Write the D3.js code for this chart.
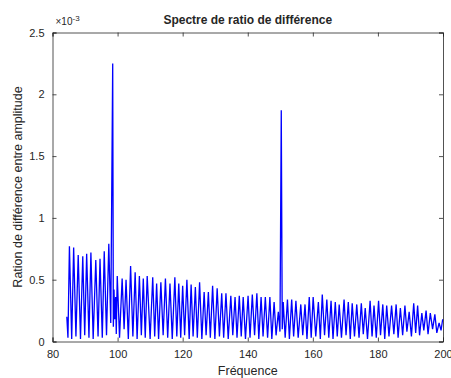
<!DOCTYPE html>
<meta charset="utf-8">
<style>
body { margin: 0; background: #fff; }
text { font-family: "Liberation Sans", Arial, Helvetica, sans-serif; fill: #262626; }
.title { font-size: 12px; font-weight: bold; }
.lbl { font-size: 12.5px; }
</style>
<svg width="451" height="378"></svg>
<script src="https://cdn.jsdelivr.net/npm/d3@7/dist/d3.min.js"></script>
<script>

// peaks of the ratio (frequency in Hz, amplitude in 1e-3)
var peakFreq = [85.2, 86.5, 87.9, 89.3, 90.5, 91.8, 93.3, 94.6, 95.9, 97.3, 98.5, 98.9, 99.4,
  99.9, 101.4, 102.6, 104.0, 105.4, 106.7, 107.9, 109.1, 110.8, 112.0, 113.3, 114.7, 116.1,
  117.6, 118.8, 120.0, 121.3, 122.6, 123.9, 125.2, 126.6, 127.9, 129.2, 130.6, 132.0, 133.3,
  134.8, 136.1, 137.4, 138.6, 140.1, 141.4, 142.8, 144.1, 145.4, 146.8, 148.1, 149.4, 150.3,
  150.9, 152.2, 153.5, 154.8, 156.3, 157.6, 158.9, 160.1, 161.7, 162.9, 164.3, 165.6, 166.9,
  168.1, 169.6, 170.9, 172.1, 173.5, 174.9, 176.1, 177.6, 178.8, 180.2, 181.5, 182.7, 184.2,
  185.6, 186.9, 188.3, 189.6, 191.0, 192.2, 193.5, 194.8, 196.1, 197.5, 198.8, 199.9];
var peakAmp = [0.77, 0.76, 0.70, 0.69, 0.71, 0.72, 0.66, 0.67, 0.73, 0.79, 2.25, 0.42, 0.36,
  0.53, 0.51, 0.50, 0.61, 0.56, 0.53, 0.51, 0.53, 0.52, 0.47, 0.48, 0.51, 0.47,
  0.52, 0.47, 0.45, 0.50, 0.46, 0.44, 0.48, 0.40, 0.40, 0.45, 0.43, 0.39, 0.39,
  0.37, 0.36, 0.37, 0.36, 0.37, 0.38, 0.39, 0.36, 0.36, 0.36, 0.32, 0.24, 1.87,
  0.32, 0.34, 0.34, 0.33, 0.30, 0.30, 0.36, 0.36, 0.32, 0.38, 0.34, 0.33, 0.32,
  0.30, 0.34, 0.32, 0.31, 0.30, 0.31, 0.27, 0.33, 0.29, 0.33, 0.30, 0.29, 0.29,
  0.30, 0.27, 0.29, 0.24, 0.31, 0.29, 0.23, 0.25, 0.23, 0.22, 0.15, 0.18];

// dips between the peaks
var dipFreq = [84.4, 84.75, 85.9, 87.2, 88.6, 89.9, 91.2, 92.5, 94.0, 95.3, 96.6, 97.9, 98.7,
  99.1, 99.6, 100.6, 102.0, 103.3, 104.7, 106.0, 107.3, 108.5, 110.0, 111.4, 112.6, 114.0,
  115.4, 116.8, 118.2, 119.4, 120.6, 122.0, 123.2, 124.5, 125.9, 127.2, 128.5, 129.9, 131.3,
  132.6, 134.0, 135.4, 136.7, 138.0, 139.3, 140.7, 142.1, 143.4, 144.7, 146.1, 147.4, 148.7,
  149.9, 150.6, 151.5, 152.8, 154.1, 155.5, 156.9, 158.2, 159.5, 160.9, 162.3, 163.6, 164.9,
  166.2, 167.5, 168.8, 170.2, 171.5, 172.8, 174.2, 175.5, 176.8, 178.2, 179.5, 180.8, 182.1,
  183.4, 184.9, 186.2, 187.6, 188.9, 190.3, 191.6, 192.8, 194.1, 195.4, 196.8, 198.1, 199.4];
var dipAmp = [0.20, 0.03, 0.02, 0.04, 0.02, 0.05, 0.03, 0.02, 0.04, 0.03, 0.05, 0.15, 0.12,
  0.18, 0.06, 0.03, 0.10, 0.02, 0.04, 0.02, 0.05, 0.03, 0.02, 0.04, 0.02, 0.05,
  0.03, 0.02, 0.04, 0.03, 0.05, 0.02, 0.04, 0.03, 0.02, 0.05, 0.03, 0.02, 0.04,
  0.03, 0.02, 0.05, 0.03, 0.04, 0.02, 0.03, 0.05, 0.02, 0.04, 0.03, 0.02, 0.05,
  0.08, 0.10, 0.03, 0.02, 0.04, 0.03, 0.05, 0.02, 0.03, 0.04, 0.02, 0.05, 0.03,
  0.02, 0.04, 0.03, 0.05, 0.02, 0.04, 0.03, 0.06, 0.02, 0.04, 0.03, 0.05, 0.02,
  0.04, 0.06, 0.03, 0.05, 0.08, 0.04, 0.07, 0.05, 0.09, 0.06, 0.10, 0.07, 0.09];

var xTicks = [80, 100, 120, 140, 160, 180, 200];
var yTicks = [0, 0.5, 1, 1.5, 2, 2.5];

var points = peakFreq.map(function(f, i) { return [f, peakAmp[i]]; })
  .concat(dipFreq.map(function(f, i) { return [f, dipAmp[i]]; }))
  .sort(function(a, b) { return a[0] - b[0]; });

var svg = d3.select("svg"),
    pLeft = 52.5, pRight = 443, pTop = 32.5, pBottom = 341.5;

var x = d3.scaleLinear().domain([80, 200]).range([pLeft, pRight]);
var y = d3.scaleLinear().domain([0, 2.5]).range([pBottom, pTop]);

// data line
svg.append("path")
    .datum(points)
    .attr("fill", "none")
    .attr("stroke", "#0000ff")
    .attr("stroke-width", 1.3)
    .attr("d", d3.line().x(function(d) { return x(d[0]); }).y(function(d) { return y(d[1]); }));

// axes, ticks inside like matlab
var fmt = function(d) { return String(d); };
svg.append("g").attr("transform", "translate(0," + pBottom + ")")
    .call(d3.axisBottom(x).tickValues(xTicks).tickSize(-4).tickPadding(9).tickFormat(fmt));
svg.append("g").attr("transform", "translate(0," + pTop + ")")
    .call(d3.axisTop(x).tickValues(xTicks).tickSize(-4).tickFormat(""));
svg.append("g").attr("transform", "translate(" + pLeft + ",0)")
    .call(d3.axisLeft(y).tickValues(yTicks).tickSize(-4).tickPadding(8).tickFormat(fmt));
svg.append("g").attr("transform", "translate(" + pRight + ",0)")
    .call(d3.axisRight(y).tickValues(yTicks).tickSize(-4).tickFormat(""));

svg.selectAll(".domain").attr("stroke", "#262626").attr("stroke-width", 0.8);
svg.selectAll(".tick line").attr("stroke", "#262626").attr("stroke-width", 0.8);
svg.selectAll(".tick text").attr("fill", "#262626")
    .style("font-family", "Liberation Sans, Arial, sans-serif").style("font-size", "11px");

// exponent label
var ex = svg.append("text").attr("x", pLeft + 3).attr("y", 25).style("font-size", "10px");
ex.append("tspan").text("\u00d710");
ex.append("tspan").attr("dy", -4).style("font-size", "8px").text("-3");

svg.append("text").attr("class", "title")
    .attr("x", (pLeft + pRight) / 2).attr("y", 24).attr("text-anchor", "middle")
    .text("Spectre de ratio de diff\u00e9rence");

svg.append("text").attr("class", "lbl")
    .attr("x", (pLeft + pRight) / 2).attr("y", 375).attr("text-anchor", "middle")
    .text("Fr\u00e9quence");

svg.append("text").attr("class", "lbl")
    .attr("transform", "translate(22," + (pTop + pBottom) / 2 + ") rotate(-90)")
    .attr("text-anchor", "middle")
    .text("Ration de diff\u00e9rence entre amplitude");

</script>
